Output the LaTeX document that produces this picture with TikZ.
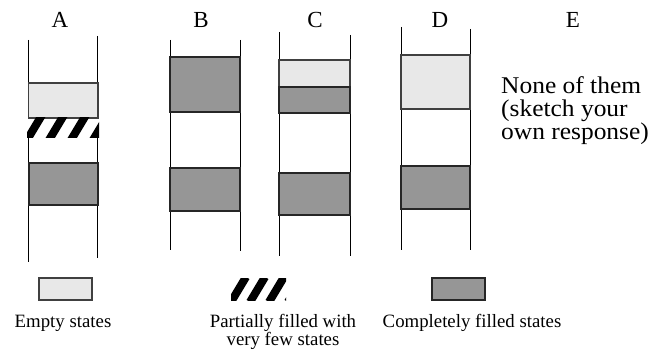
\documentclass[tikz,border=0pt]{standalone}
\usepackage{fontspec}
\setmainfont{Liberation Serif}
\newfontfamily\widefont[FakeStretch=1.06]{Liberation Serif}
\begin{document}
\begin{tikzpicture}[x=1pt,y=-1pt,
  wall/.style={line width=0.9pt, black},
  emptybox/.style={draw=black!75, line width=1.2pt, fill=gray!18},
  fullbox/.style={draw=black!85, line width=1.2pt, fill=black!41},
  stripe/.style={line width=8pt, black},
  head/.style={font=\fontsize{23}{27}\selectfont, inner sep=0pt},
  note/.style={font=\widefont\fontsize{24}{28}\selectfont, inner sep=0pt, anchor=base west},
  legend/.style={font=\fontsize{18.8}{22}\selectfont, inner sep=0pt, anchor=base}]
\useasboundingbox (0,0) rectangle (667,350);

% diagonal hatching inside a rectangle (left, top, right, bottom, stripe period)
\newcommand\hatchrect[5]{%
  \begin{scope}
    \clip (#1,#2) rectangle (#3,#4);
    \foreach \k in {-2,...,5}
      \draw[stripe] (#1+\k*#5,#4+2) -- ++(15,-25);
  \end{scope}}

% column headings
\node[head] (hA) at (60,20) {A};
\node[head] (hB) at (201,20) {B};
\node[head] (hC) at (315,20) {C};
\node[head] (hD) at (440,20) {D};
\node[head] (hE) at (573,20) {E};

% column A
\draw[wall] (28,40) -- (28,118) (28,138) -- (28,262);
\draw[wall] (97,36) -- (97,118) (97,138) -- (97,258);
\filldraw[emptybox] (28.5,83) rectangle (98,118);
\hatchrect{27}{118}{99}{138}{22}
\filldraw[fullbox] (29,163) rectangle (98,205);

% column B
\draw[wall] (170,40) -- (170,250);
\draw[wall] (240,40) -- (240,251);
\filldraw[fullbox] (170,57) rectangle (240,112);
\filldraw[fullbox] (170,168) rectangle (240,211);

% column C
\draw[wall] (279,32) -- (279,256);
\draw[wall] (350,35) -- (350,256);
\filldraw[emptybox] (279,60) rectangle (350,87);
\filldraw[fullbox] (279,87) rectangle (350,113);
\filldraw[fullbox] (279,173) rectangle (350,215);

% column D
\draw[wall] (401,27) -- (401,250);
\draw[wall] (470,29) -- (470,250);
\filldraw[emptybox] (401,55) rectangle (470,109);
\filldraw[fullbox] (401,166) rectangle (470,209);

% option E
\node[note] (e1) at (501,94) {None of them};
\node[note] (e2) at (501,117) {(sketch your};
\node[note] (e3) at (501,140) {own response)};

% legend
\filldraw[emptybox] (39,278) rectangle (92,300);
\hatchrect{231}{278}{286}{300}{19}
\filldraw[fullbox] (432,278) rectangle (485,300);
\node[legend] (l1) at (63,327) {Empty states};
\node[legend] (l2) at (283,327) {Partially filled with};
\node[legend] (l3) at (283,345) {very few states};
\node[legend] (l4) at (472,327) {Completely filled states};
\end{tikzpicture}
\end{document}
